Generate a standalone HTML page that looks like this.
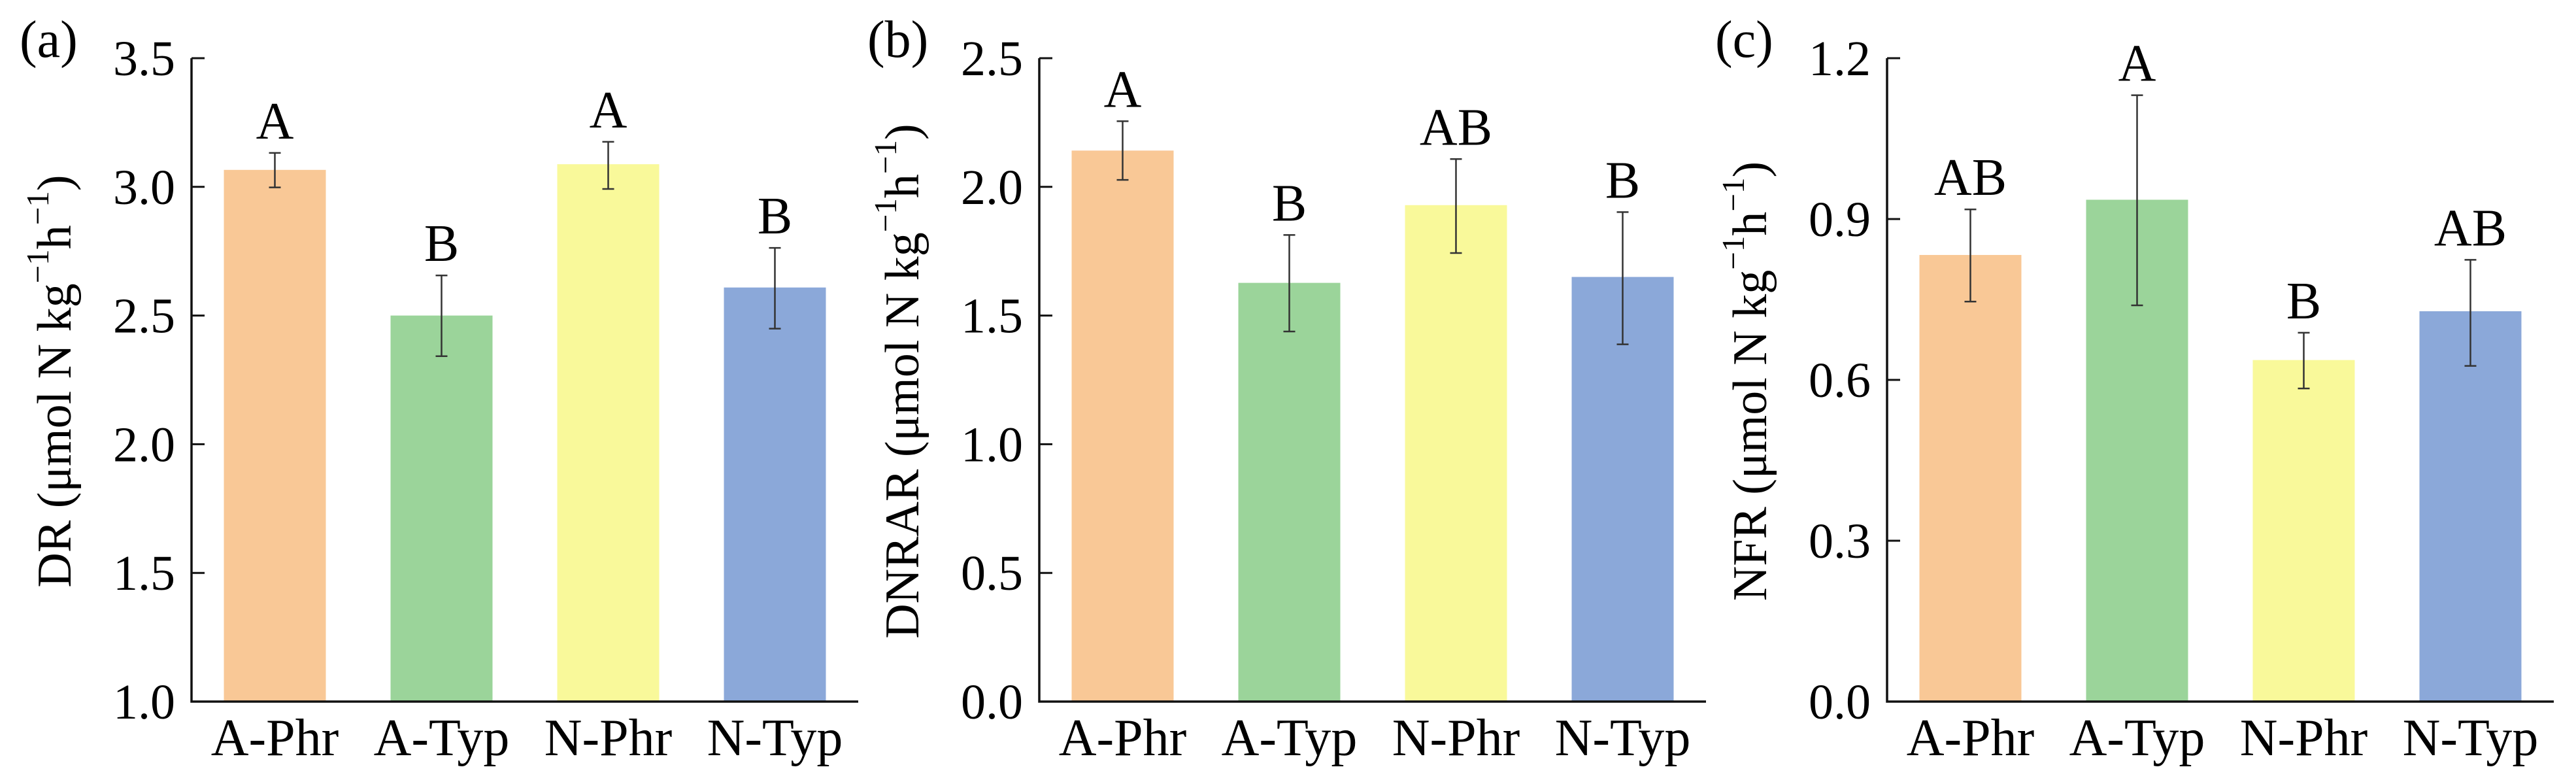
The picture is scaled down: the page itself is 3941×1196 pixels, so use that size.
<!DOCTYPE html>
<html><head><meta charset="utf-8"><style>
html,body{margin:0;padding:0;background:#fff;}
svg{display:block;font-family:"Liberation Serif",serif;}
</style></head><body>
<svg id="fig" width="3941" height="1196" viewBox="0 0 3941 1196" xmlns="http://www.w3.org/2000/svg"></svg>
<script>
const categories = ["A-Phr","A-Typ","N-Phr","N-Typ"];
const colors = ["#F9C896","#9BD49A","#F9F99A","#8BA8D9"];
const drValues = [3.066, 2.50, 3.088, 2.609];
const drLow = [2.998, 2.342, 2.992, 2.449];
const drHigh = [3.132, 2.656, 3.175, 2.763];
const drLetters = ["A","B","A","B"];
const drTicks = [1.0, 1.5, 2.0, 2.5, 3.0, 3.5];
const dnValues = [2.141, 1.627, 1.929, 1.650];
const dnLow = [2.027, 1.438, 1.743, 1.388];
const dnHigh = [2.255, 1.813, 2.108, 1.902];
const dnLetters = ["A","B","AB","B"];
const dnTicks = [0.0, 0.5, 1.0, 1.5, 2.0, 2.5];
const nfValues = [0.833, 0.936, 0.637, 0.728];
const nfLow = [0.746, 0.739, 0.584, 0.626];
const nfHigh = [0.918, 1.131, 0.688, 0.824];
const nfLetters = ["AB","A","B","AB"];
const nfTicks = [0.0, 0.3, 0.6, 0.9, 1.2];

const NS = "http://www.w3.org/2000/svg";
const svg = document.getElementById("fig");
function mk(tag, attrs, parent){
  const e = document.createElementNS(NS, tag);
  for (const k in attrs) e.setAttribute(k, attrs[k]);
  parent.appendChild(e);
  return e;
}
const panels = [
  {id:"a", x0:293, vals:drValues, lo:drLow, hi:drHigh, letters:drLetters, ticks:drTicks, dec:1, title:"DR"},
  {id:"b", x0:1590, vals:dnValues, lo:dnLow, hi:dnHigh, letters:dnLetters, ticks:dnTicks, dec:1, title:"DNRAR"},
  {id:"c", x0:2887, vals:nfValues, lo:nfLow, hi:nfHigh, letters:nfLetters, ticks:nfTicks, dec:1, title:"NFR"}
];
const yTop = 89, yBot = 1073, W = 1020;
panels.forEach(p => {
  const g = mk("g", {}, svg);
  
  
  const tmin = p.ticks[0], tmax = p.ticks[p.ticks.length-1];
  const ys = v => yBot - (v - tmin) / (tmax - tmin) * (yBot - yTop);
  const band = W / categories.length;
  const xc = i => p.x0 + band * (i + 0.5);
  const bw = 156;
  p.vals.forEach((v, i) => {
    const r = mk("rect", {x: xc(i)-bw/2, y: ys(v), width: bw, height: yBot - ys(v), fill: colors[i]}, g);
    
    
    const eb = mk("path", {d: `M${xc(i)},${ys(p.hi[i])}V${ys(p.lo[i])}M${xc(i)-9},${ys(p.hi[i])}H${xc(i)+9}M${xc(i)-9},${ys(p.lo[i])}H${xc(i)+9}`, stroke:"#333", "stroke-width":2.5, fill:"none"}, g);
    
    
    const lt = mk("text", {x: xc(i), y: ys(p.hi[i]) - 22, "font-size": 80, "text-anchor":"middle", fill:"#000"}, g);
    lt.textContent = p.letters[i];
    
    
    const xl = mk("text", {x: xc(i), y: 1155, "font-size": 80, "text-anchor":"middle", fill:"#000"}, g);
    xl.textContent = categories[i];
    
    
  });
  const ax = mk("path", {d:`M${p.x0},${yTop}V${yBot}H${p.x0+W}`, stroke:"#111", "stroke-width":3.5, fill:"none"}, g);
  
  
  p.ticks.forEach(t => {
    const tk = mk("line", {x1:p.x0, x2:p.x0+20, y1:ys(t), y2:ys(t), stroke:"#111", "stroke-width":3}, g);
    
    
    const tl = mk("text", {x:p.x0-25, y:ys(t)+26, "font-size":76, "text-anchor":"end", fill:"#000"}, g);
    tl.textContent = t.toFixed(p.dec);
    
    
  });
  const pl = mk("text", {x:p.x0-263, y:87, "font-size":80, fill:"#000"}, g);
  pl.textContent = "(" + p.id + ")";
  
  
  const cx = p.x0 - 209, cy = 583;
  const tt = mk("text", {x:cx, y:cy, "font-size":74, "text-anchor":"middle", fill:"#000", transform:`rotate(-90 ${cx} ${cy})`, "dominant-baseline":"central"}, g);
  
  
  tt.innerHTML = p.title + ' (μmol N kg<tspan dy="-27" font-size="49">−1</tspan><tspan dy="27">h</tspan><tspan dy="-27" font-size="49">−1</tspan><tspan dy="27">)</tspan>';
});
</script>
</body></html>
